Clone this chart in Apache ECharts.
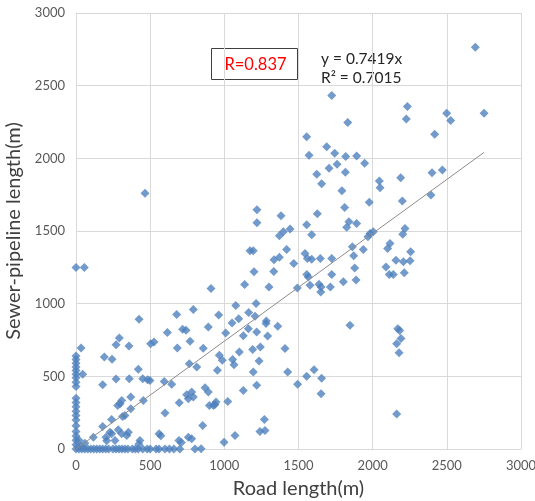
<!DOCTYPE html>
<html>
<head>
<meta charset="utf-8">
<script src="https://cdn.jsdelivr.net/npm/echarts@6/dist/echarts.min.js"></script>
<style>
  html, body { margin: 0; padding: 0; background: #fff; }
  #main { width: 535px; height: 501px; }
</style>
</head>
<body>
<div id="main"></div>
<script>
// 道路长度 (x) 和 污水管长度 (y)
var roadLength = [
  2692,1724,2234,2227,2499,2526,2751,1832,2418,1555,1690,1744,1571,1818,1892,1946,1706,1760,1623,1816,
  2470,2400,2189,2045,2050,1656,1793,465,2393,2200,1977,1811,1220,1627,1382,1840,1892,1220,1555,1825,
  2218,1443,1398,2004,1982,2203,1589,1371,1968,2117,1863,2101,1937,1420,1173,1195,2256,1544,1872,1371,
  1560,1589,1647,1724,1335,2157,2252,2207,1468,2090,0,56,1879,1200,1333,2213,1556,1724,2112,2139,
  1566,1888,1802,1137,1578,1638,1652,1715,910,1301,1492,1650,1077,1214,791,962,1164,1207,679,425,
  1097,1283,1281,1052,1847,1360,892,1162,2169,2182,1218,616,1009,1128,1292,719,742,292,2191,769,
  526,503,2162,270,357,1243,34,683,858,1409,1191,1101,2178,966,191,243,1056,986,1234,764,
  1065,814,420,953,1605,1195,1427,45,1555,1656,270,359,450,483,499,595,645,1494,180,1218,
  870,1128,780,892,1652,746,369,791,757,308,454,1023,944,696,297,937,281,899,926,369,
  600,2162,330,314,1270,240,854,180,285,1274,1240,308,240,560,342,353,1072,117,202,757,
  780,263,431,694,998,843,802,
  0,0,0,0,0,0,0,0,0,0,0,0,0,0,0,0,0,0,0,0,0,
  30,60,20,229,207,424,572,710,
  20,40,60,80,100,120,140,160,180,200,220,250,270,290,310,330,350,380,400,420,450,480,500,540,560,600,630,660,700
];
var sewerLength = [
  2765,2432,2356,2271,2311,2260,2311,2246,2166,2149,2080,2035,2021,2012,2016,1966,1931,1959,1890,1904,
  1920,1901,1867,1844,1798,1825,1777,1759,1747,1706,1697,1662,1646,1619,1605,1564,1552,1557,1543,1525,
  1518,1513,1495,1495,1483,1478,1474,1467,1460,1414,1391,1380,1373,1373,1364,1364,1357,1346,1329,1320,
  1311,1306,1311,1311,1302,1299,1295,1288,1277,1253,1249,1249,1246,1219,1221,1212,1201,1201,1201,1201,
  1184,1162,1150,1132,1127,1134,1115,1115,1104,1115,1108,1081,987,1001,960,922,939,913,925,893,
  897,881,863,867,851,844,840,828,828,815,805,801,798,780,778,824,817,764,760,741,
  736,725,725,718,709,702,695,695,693,691,684,667,663,645,633,617,615,610,605,587,
  580,564,548,541,546,529,529,514,500,486,481,484,484,477,472,465,445,445,442,438,
  422,403,392,392,380,374,357,357,346,334,334,327,323,318,312,307,300,300,300,277,
  247,240,231,224,203,203,162,155,132,128,121,105,105,105,93,116,93,81,81,81,
  70,59,59,59,47,1,0,
  640,615,590,565,540,515,490,460,430,350,320,290,260,230,200,160,120,90,60,30,0,
  20,40,60,116,57,34,92,45,
  0,0,0,0,0,0,0,0,0,0,0,0,0,0,0,0,0,0,0,0,0,0,0,0,0,0,0,0,0
];

// 线性趋势线 y = 0.7419x
var trendSlope = 0.7419;
var trendRange = [0, 2750];
var axisTicks = [0, 500, 1000, 1500, 2000, 2500, 3000];

var pointData = [];
for (var i = 0; i < roadLength.length; i++) {
    pointData.push([roadLength[i], sewerLength[i]]);
}
var trendData = trendRange.map(function (x) { return [x, x * trendSlope]; });

var myChart = echarts.init(document.getElementById('main'));

var fontName = 'Lato';

myChart.setOption({
    animation: false,
    grid: {
        left: 76,
        right: 14,
        top: 13,
        bottom: 52,
        outerBoundsMode: 'none',
        containLabel: false
    },
    xAxis: {
        type: 'value',
        min: axisTicks[0],
        max: axisTicks[axisTicks.length - 1],
        interval: axisTicks[1] - axisTicks[0],
        name: 'Road length(m)',
        nameLocation: 'middle',
        nameGap: 30,
        nameTextStyle: { color: '#404040', fontSize: 20, fontFamily: fontName },
        axisLine: { show: true, lineStyle: { color: '#d9d9d9' } },
        axisTick: { show: false },
        axisLabel: {
            color: '#595959', fontSize: 13, fontFamily: fontName, margin: 10,
            formatter: function (v) { return String(v); }
        },
        splitLine: { show: true, lineStyle: { color: '#d9d9d9', width: 1 } }
    },
    yAxis: {
        type: 'value',
        min: axisTicks[0],
        max: axisTicks[axisTicks.length - 1],
        interval: axisTicks[1] - axisTicks[0],
        name: 'Sewer-pipeline length(m)',
        nameLocation: 'middle',
        nameGap: 46,
        nameTextStyle: { color: '#404040', fontSize: 20, fontFamily: fontName },
        axisLine: { show: true, lineStyle: { color: '#d9d9d9' } },
        axisTick: { show: false },
        axisLabel: {
            color: '#595959', fontSize: 13, fontFamily: fontName, margin: 11,
            formatter: function (v) { return String(v); }
        },
        splitLine: { show: true, lineStyle: { color: '#d9d9d9', width: 1 } }
    },
    graphic: [
        {   // R 文本框
            type: 'group',
            left: 211,
            top: 48,
            zlevel: 1,
            children: [
                {
                    type: 'rect',
                    shape: { x: 0, y: 0, width: 86, height: 31 },
                    style: { fill: '#fff', stroke: '#404040', lineWidth: 1 }
                },
                {
                    type: 'text',
                    x: 44, y: 16,
                    style: {
                        text: 'R=0.837', fill: '#ff0000', fontSize: 16.5, fontFamily: fontName,
                        align: 'center', verticalAlign: 'middle'
                    }
                }
            ]
        },
        {   // 回归方程
            type: 'group',
            left: 318,
            top: 45,
            zlevel: 1,
            children: [
                {
                    type: 'rect',
                    shape: { x: 0, y: 0, width: 89, height: 46 },
                    style: { fill: '#fff' }
                },
                {
                    type: 'text',
                    x: 3, y: 14,
                    style: {
                        text: 'y = 0.7419x', fill: '#262626', fontSize: 15.5, fontFamily: fontName,
                        verticalAlign: 'middle'
                    }
                },
                {
                    type: 'text',
                    x: 3, y: 33,
                    style: {
                        text: 'R² = 0.7015', fill: '#262626', fontSize: 15.5, fontFamily: fontName,
                        verticalAlign: 'middle'
                    }
                }
            ]
        }
    ],
    series: [
        {
            name: 'trend',
            type: 'line',
            data: trendData,
            symbol: 'none',
            z: 3,
            lineStyle: { color: '#8c8c8c', width: 1 }
        },
        {
            name: 'points',
            type: 'scatter',
            data: pointData,
            symbol: 'diamond',
            symbolSize: 9,
            z: 2,
            itemStyle: { color: '#4f81bd' }
        }
    ]
});
</script>
</body>
</html>
